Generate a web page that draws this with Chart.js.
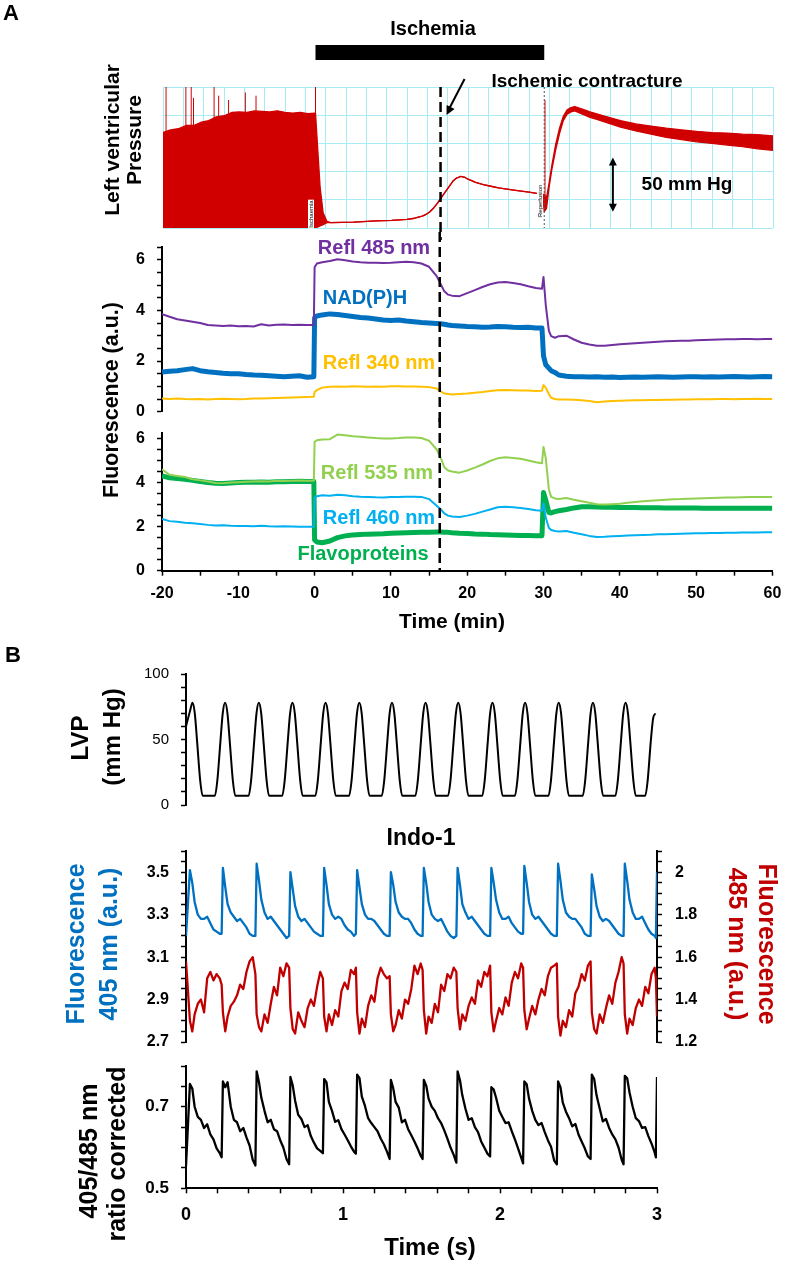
<!DOCTYPE html>
<html>
<head>
<meta charset="utf-8">
<script src="https://cdn.jsdelivr.net/npm/chart.js"></script>
<style>
  body { margin: 0; width: 787px; height: 1274px; position: relative; overflow: hidden; background: #fff;
         font-family: "Liberation Sans", Arial, sans-serif; }
  canvas { position: absolute; left: 0; }
  .lbl { position: absolute; white-space: nowrap; font-weight: bold; line-height: 1; }
</style>
</head>
<body>
<canvas id="lvpA" width="787" height="240" style="top:0px"></canvas>
<canvas id="fluorTop" width="787" height="193" style="top:232px"></canvas>
<canvas id="fluorBottom" width="787" height="222" style="top:418px"></canvas>
<canvas id="lvpB" width="787" height="170" style="top:650px"></canvas>
<canvas id="indo" width="787" height="215" style="top:840px"></canvas>
<canvas id="ratio" width="787" height="219" style="top:1055px"></canvas>
<script>
// ---------- Panel A data (time in min) ----------
const ischemiaStart = 0;
const ischemiaEnd = 30;
const contractureMinute = 16.4;

const minutesA = [
  -20, -19, -18, -17, -16, -15, -14, -13, -12, -11,
  -10, -9, -8, -7, -6, -5, -4, -3, -2, -1,
  -0.1, 0, 0.3, 1, 2, 3, 4, 5, 6, 7,
  8, 9, 10, 11, 12, 13, 14, 15, 16, 16.5,
  17, 17.5, 18, 19, 20, 21, 22, 23, 24, 25,
  26, 27, 28, 29, 29.8, 30, 30.3, 30.7, 31, 31.5,
  32, 33, 34, 35, 36, 37, 38, 39, 40, 41,
  42, 43, 44, 45, 46, 47, 48, 49, 50, 51,
  52, 53, 54, 55, 56, 57, 58, 59, 60
];
const refl485 = [
  3.85, 3.75, 3.65, 3.60, 3.55, 3.50, 3.42, 3.40, 3.38, 3.40,
  3.37, 3.38, 3.36, 3.45, 3.40, 3.43, 3.44, 3.42, 3.43, 3.42,
  3.42, 5.70, 5.85, 5.90, 5.95, 6.02, 5.98, 5.93, 5.90, 5.88,
  5.88, 5.87, 5.88, 5.90, 5.92, 5.90, 5.85, 5.72, 5.35, 5.05,
  4.75, 4.62, 4.58, 4.56, 4.68, 4.80, 4.92, 5.03, 5.10, 5.12,
  5.08, 5.03, 4.95, 4.88, 4.85, 5.32, 4.20, 3.20, 2.98, 2.92,
  2.98, 3.00, 2.85, 2.72, 2.65, 2.60, 2.60, 2.63, 2.66, 2.68,
  2.70, 2.72, 2.74, 2.76, 2.78, 2.79, 2.80, 2.80, 2.82, 2.83,
  2.84, 2.85, 2.86, 2.86, 2.87, 2.87, 2.86, 2.87, 2.87
];
const nadph = [
  1.57, 1.60, 1.62, 1.66, 1.70, 1.62, 1.58, 1.55, 1.52, 1.50,
  1.50, 1.47, 1.45, 1.44, 1.42, 1.40, 1.38, 1.40, 1.42, 1.36,
  1.38, 3.70, 3.78, 3.82, 3.86, 3.84, 3.80, 3.76, 3.72, 3.70,
  3.66, 3.62, 3.60, 3.62, 3.58, 3.55, 3.52, 3.50, 3.48, 3.47,
  3.45, 3.42, 3.40, 3.38, 3.36, 3.35, 3.33, 3.34, 3.36, 3.35,
  3.33, 3.32, 3.33, 3.30, 3.30, 2.20, 1.85, 1.72, 1.62, 1.55,
  1.45, 1.40, 1.38, 1.38, 1.37, 1.38, 1.36, 1.37, 1.35, 1.36,
  1.37, 1.36, 1.37, 1.38, 1.37, 1.36, 1.37, 1.38, 1.38, 1.37,
  1.38, 1.37, 1.38, 1.39, 1.38, 1.37, 1.38, 1.39, 1.38
];
const refl340 = [
  0.52, 0.50, 0.52, 0.50, 0.49, 0.50, 0.48, 0.50, 0.51, 0.50,
  0.49, 0.50, 0.52, 0.52, 0.53, 0.54, 0.55, 0.56, 0.57, 0.58,
  0.59, 0.78, 0.85, 0.95, 0.98, 0.99, 0.98, 1.00, 0.99, 0.98,
  0.99, 0.98, 1.00, 1.00, 0.99, 0.99, 0.98, 0.97, 0.92, 0.80,
  0.72, 0.70, 0.68, 0.70, 0.72, 0.75, 0.78, 0.82, 0.85, 0.86,
  0.85, 0.84, 0.84, 0.82, 0.83, 1.05, 0.95, 0.70, 0.55, 0.50,
  0.48, 0.48, 0.47, 0.45, 0.42, 0.37, 0.40, 0.42, 0.43, 0.44,
  0.45, 0.45, 0.46, 0.46, 0.47, 0.47, 0.48, 0.48, 0.49, 0.49,
  0.49, 0.50, 0.50, 0.49, 0.50, 0.50, 0.51, 0.50, 0.50
];
const refl535 = [
  4.60, 4.35, 4.30, 4.25, 4.15, 4.10, 4.05, 3.98, 3.97, 4.00,
  4.02, 4.04, 4.05, 4.06, 4.05, 4.08, 4.07, 4.08, 4.09, 4.08,
  4.08, 5.85, 5.92, 5.95, 5.97, 6.18, 6.15, 6.10, 6.08, 6.05,
  6.02, 6.00, 6.00, 6.02, 6.05, 6.05, 6.02, 5.90, 5.50, 5.15,
  4.70, 4.55, 4.50, 4.45, 4.55, 4.68, 4.82, 4.98, 5.10, 5.15,
  5.12, 5.08, 5.00, 4.92, 4.88, 5.62, 5.10, 3.70, 3.35, 3.28,
  3.25, 3.30, 3.22, 3.15, 3.08, 3.02, 3.00, 3.02, 3.04, 3.08,
  3.12, 3.15, 3.18, 3.20, 3.22, 3.24, 3.25, 3.27, 3.28, 3.29,
  3.30, 3.31, 3.32, 3.32, 3.33, 3.34, 3.34, 3.35, 3.35
];
const flavoproteins = [
  4.30, 4.22, 4.18, 4.15, 4.10, 4.05, 4.00, 3.97, 3.96, 3.98,
  4.00, 4.01, 4.02, 4.03, 4.02, 4.04, 4.04, 4.05, 4.06, 4.05,
  4.05, 1.40, 1.30, 1.27, 1.35, 1.50, 1.58, 1.62, 1.64, 1.66,
  1.67, 1.68, 1.70, 1.71, 1.72, 1.73, 1.74, 1.75, 1.76, 1.76,
  1.75, 1.74, 1.72, 1.70, 1.69, 1.67, 1.66, 1.64, 1.63, 1.62,
  1.61, 1.60, 1.60, 1.59, 1.59, 3.55, 3.20, 2.65, 2.62, 2.68,
  2.72, 2.78, 2.85, 2.90, 2.90, 2.89, 2.88, 2.88, 2.87, 2.87,
  2.87, 2.86, 2.86, 2.86, 2.85, 2.85, 2.85, 2.85, 2.85, 2.84,
  2.84, 2.84, 2.84, 2.83, 2.83, 2.83, 2.83, 2.83, 2.83
];
const refl460 = [
  2.35, 2.25, 2.22, 2.18, 2.15, 2.12, 2.08, 2.05, 2.06, 2.04,
  2.03, 2.03, 2.02, 2.04, 2.02, 2.01, 2.02, 2.01, 2.00, 2.00,
  2.00, 3.30, 3.38, 3.42, 3.40, 3.45, 3.42, 3.38, 3.36, 3.35,
  3.33, 3.32, 3.34, 3.35, 3.36, 3.36, 3.35, 3.25, 2.95, 2.80,
  2.60, 2.50, 2.46, 2.44, 2.50, 2.58, 2.68, 2.78, 2.88, 2.90,
  2.88, 2.85, 2.80, 2.74, 2.72, 3.05, 2.40, 1.95, 1.85, 1.80,
  1.78, 1.80, 1.72, 1.65, 1.58, 1.53, 1.54, 1.56, 1.58, 1.60,
  1.61, 1.62, 1.63, 1.65, 1.66, 1.67, 1.68, 1.69, 1.70, 1.70,
  1.71, 1.71, 1.72, 1.72, 1.73, 1.73, 1.73, 1.74, 1.74
];

// Left ventricular pressure record (envelope of the fast trace, mm Hg)
const lvpMinutes = [
  -20, -19, -18, -17, -16, -15, -14, -13, -12, -11,
  -10, -9, -8, -7, -6, -5, -4, -3, -2, -1,
  -0.1, 0, 0.3, 0.6, 1, 1.5, 2, 5, 8, 10,
  12, 13, 14, 14.5, 15, 15.5, 16, 16.5, 17, 17.5,
  18, 18.5, 19, 19.5, 20, 21, 22, 23, 24, 26,
  28, 29, 29.8, 30, 30.3, 30.6, 31, 31.5, 32, 32.5,
  33, 33.5, 34, 35, 36, 37, 38, 40, 42, 44,
  46, 48, 50, 52, 54, 56, 58, 60
];
const lvpUpper = [
  88, 90.5, 91.5, 94.5, 94.5, 97.5, 99, 102.5, 103.5, 106.5,
  107, 106.5, 108, 107.5, 107, 108, 106.5, 106, 106.5, 105.5,
  106, 106, 72, 38, 14, 6, 5, 5.5, 6.5, 7,
  8, 9, 11, 12.5, 15, 18.5, 23, 28, 33, 38,
  43, 46, 47.5, 47, 45, 42, 40, 38.5, 37, 35,
  33, 32, 31, 31, 28, 40, 58, 77, 92, 103,
  109, 111, 112, 109.5, 107, 105, 103, 99, 96, 94,
  92, 90.5, 89, 88, 87.5, 86.5, 86, 85
];
const lvpLower = [
  0, 0, 0, 0, 0, 0, 0, 0, 0, 0,
  0, 0, 0, 0, 0, 0, 0, 0, 0, 0,
  0, 0, 1, 2, 3, 5, 5, 5.5, 6.5, 7,
  8, 9, 11, 12.5, 15, 18.5, 23, 28, 33, 38,
  43, 46, 47.5, 47, 45, 42, 40, 38.5, 37, 35,
  33, 32, 31, 15, 18, 36, 54, 72, 87, 99,
  105, 107, 108, 105, 102, 100, 97.5, 93, 89.5, 86.5,
  83.5, 81.5, 79.5, 78, 76.5, 75, 73, 71.5
];
const spikeMinutes = [-19.6, -17.0, -16.3, -16.0, -13.3, -12.7, -11.4, -9.2, -7.8, 0, 30.1];
const spikeBase = [0, 0, 0, 0, 0, 0, 0, 0, 0, 0, 20];
const spikeTop = [130, 130, 130, 120, 130, 122, 118, 125, 122, 130, 118];

// ---------- Panel B data (time in s) ----------
const lvpBSeconds = [
  0, 0.026, 0.041, 0.056, 0.071, 0.091, 0.106,
  0.184, 0.199, 0.219, 0.234, 0.249, 0.264, 0.279, 0.299, 0.314,
  0.399, 0.414, 0.434, 0.449, 0.464, 0.479, 0.494, 0.514, 0.529,
  0.613, 0.628, 0.648, 0.663, 0.678, 0.693, 0.708, 0.728, 0.743,
  0.824, 0.839, 0.859, 0.874, 0.889, 0.904, 0.919, 0.939, 0.954,
  1.039, 1.054, 1.074, 1.089, 1.104, 1.119, 1.134, 1.154, 1.169,
  1.247, 1.262, 1.282, 1.297, 1.312, 1.327, 1.342, 1.362, 1.377,
  1.461, 1.476, 1.496, 1.511, 1.526, 1.541, 1.556, 1.576, 1.591,
  1.669, 1.684, 1.704, 1.719, 1.734, 1.749, 1.764, 1.784, 1.799,
  1.887, 1.902, 1.922, 1.937, 1.952, 1.967, 1.982, 2.002, 2.017,
  2.095, 2.110, 2.130, 2.145, 2.160, 2.175, 2.190, 2.210, 2.225,
  2.309, 2.324, 2.344, 2.359, 2.374, 2.389, 2.404, 2.424, 2.439,
  2.527, 2.542, 2.562, 2.577, 2.592, 2.607, 2.622, 2.642, 2.657,
  2.735, 2.750, 2.770, 2.785, 2.800, 2.815, 2.830, 2.850, 2.865,
  2.925, 2.940, 2.960, 2.975, 2.990
];
const lvpBPressure = [
  60, 72, 78, 70, 48, 18, 7,
  7, 18, 48, 70, 78, 70, 48, 18, 7,
  7, 18, 48, 70, 78, 70, 48, 18, 7,
  7, 18, 48, 70, 78, 70, 48, 18, 7,
  7, 18, 48, 70, 78, 70, 48, 18, 7,
  7, 18, 48, 70, 78, 70, 48, 18, 7,
  7, 18, 48, 70, 78, 70, 48, 18, 7,
  7, 18, 48, 70, 78, 70, 48, 18, 7,
  7, 18, 48, 70, 78, 70, 48, 18, 7,
  7, 18, 48, 70, 78, 70, 48, 18, 7,
  7, 18, 48, 70, 78, 70, 48, 18, 7,
  7, 18, 48, 70, 78, 70, 48, 18, 7,
  7, 18, 48, 70, 78, 70, 48, 18, 7,
  7, 18, 48, 70, 78, 70, 48, 18, 7,
  7, 18, 48, 66, 70
];

const indoSeconds = [
  0, 0.025, 0.04, 0.055, 0.075, 0.095, 0.115, 0.135, 0.155, 0.175, 0.195, 0.215,
  0.227, 0.235, 0.25, 0.265, 0.285, 0.305, 0.325, 0.345, 0.365, 0.385, 0.405, 0.425,
  0.442, 0.45, 0.465, 0.48, 0.5, 0.52, 0.54, 0.56, 0.58, 0.6, 0.62, 0.64,
  0.657, 0.665, 0.68, 0.695, 0.715, 0.735, 0.755, 0.775, 0.795, 0.815, 0.835, 0.855,
  0.872, 0.88, 0.895, 0.91, 0.93, 0.95, 0.97, 0.99, 1.01, 1.03, 1.05, 1.07,
  1.082, 1.09, 1.105, 1.12, 1.14, 1.16, 1.18, 1.2, 1.22, 1.24, 1.26, 1.28,
  1.297, 1.305, 1.32, 1.335, 1.355, 1.375, 1.395, 1.415, 1.435, 1.455, 1.475, 1.495,
  1.507, 1.515, 1.53, 1.545, 1.565, 1.585, 1.605, 1.625, 1.645, 1.665, 1.685, 1.705,
  1.722, 1.73, 1.745, 1.76, 1.78, 1.8, 1.82, 1.84, 1.86, 1.88, 1.9, 1.92,
  1.937, 1.945, 1.96, 1.975, 1.995, 2.015, 2.035, 2.055, 2.075, 2.095, 2.115, 2.135,
  2.147, 2.155, 2.17, 2.185, 2.205, 2.225, 2.245, 2.265, 2.285, 2.305, 2.325, 2.345,
  2.362, 2.37, 2.385, 2.4, 2.42, 2.44, 2.46, 2.48, 2.5, 2.52, 2.54, 2.56,
  2.577, 2.585, 2.6, 2.615, 2.635, 2.655, 2.675, 2.695, 2.715, 2.735, 2.755, 2.775,
  2.787, 2.795, 2.81, 2.825, 2.845, 2.865, 2.885, 2.905, 2.925, 2.945, 2.965, 2.985,
  2.993, 3.0
];
const fluor405 = [
  3.20, 3.51, 3.45, 3.36, 3.30, 3.28, 3.28, 3.29, 3.26, 3.23, 3.22, 3.21,
  3.21, 3.52, 3.43, 3.35, 3.31, 3.29, 3.27, 3.28, 3.26, 3.24, 3.21, 3.20,
  3.20, 3.54, 3.46, 3.37, 3.31, 3.28, 3.29, 3.27, 3.25, 3.23, 3.21, 3.19,
  3.20, 3.50, 3.42, 3.34, 3.29, 3.27, 3.28, 3.26, 3.24, 3.22, 3.21, 3.20,
  3.20, 3.52, 3.44, 3.35, 3.30, 3.28, 3.29, 3.28, 3.25, 3.23, 3.22, 3.20,
  3.21, 3.51, 3.43, 3.35, 3.30, 3.28, 3.28, 3.27, 3.25, 3.23, 3.21, 3.20,
  3.20, 3.50, 3.44, 3.36, 3.31, 3.29, 3.28, 3.28, 3.26, 3.23, 3.21, 3.20,
  3.20, 3.52, 3.45, 3.36, 3.30, 3.28, 3.27, 3.28, 3.25, 3.22, 3.20, 3.19,
  3.20, 3.52, 3.44, 3.35, 3.31, 3.28, 3.29, 3.27, 3.25, 3.23, 3.21, 3.20,
  3.20, 3.52, 3.45, 3.37, 3.31, 3.28, 3.28, 3.29, 3.26, 3.24, 3.22, 3.21,
  3.21, 3.53, 3.45, 3.36, 3.30, 3.28, 3.29, 3.27, 3.25, 3.23, 3.21, 3.20,
  3.20, 3.54, 3.46, 3.37, 3.31, 3.29, 3.28, 3.28, 3.26, 3.24, 3.21, 3.20,
  3.20, 3.49, 3.42, 3.34, 3.29, 3.27, 3.28, 3.27, 3.25, 3.23, 3.21, 3.20,
  3.20, 3.54, 3.46, 3.37, 3.31, 3.28, 3.28, 3.29, 3.26, 3.23, 3.21, 3.20,
  3.19, 3.50
];
const fluor485 = [
  1.58, 1.30, 1.25, 1.33, 1.38, 1.40, 1.34, 1.50, 1.53, 1.49, 1.52, 1.50,
  1.47, 1.34, 1.25, 1.32, 1.37, 1.39, 1.42, 1.47, 1.45, 1.53, 1.58, 1.60,
  1.52, 1.33, 1.27, 1.25, 1.33, 1.29, 1.38, 1.46, 1.42, 1.55, 1.51, 1.57,
  1.55, 1.36, 1.26, 1.24, 1.34, 1.30, 1.27, 1.36, 1.40, 1.37, 1.46, 1.53,
  1.50, 1.32, 1.25, 1.33, 1.28, 1.35, 1.32, 1.44, 1.48, 1.45, 1.54, 1.52,
  1.55, 1.34, 1.24, 1.31, 1.27, 1.37, 1.42, 1.39, 1.50, 1.55, 1.52, 1.50,
  1.51, 1.33, 1.25, 1.28, 1.35, 1.31, 1.40, 1.38, 1.45, 1.56, 1.52, 1.57,
  1.54, 1.35, 1.24, 1.32, 1.29, 1.38, 1.34, 1.47, 1.44, 1.52, 1.50, 1.55,
  1.53, 1.36, 1.26, 1.33, 1.30, 1.37, 1.41, 1.38, 1.49, 1.46, 1.53, 1.51,
  1.56, 1.34, 1.25, 1.30, 1.36, 1.33, 1.41, 1.37, 1.48, 1.53, 1.50, 1.57,
  1.55, 1.35, 1.26, 1.31, 1.37, 1.33, 1.40, 1.45, 1.42, 1.51, 1.55, 1.56,
  1.57, 1.32, 1.23, 1.30, 1.27, 1.35, 1.32, 1.43, 1.46, 1.52, 1.49, 1.56,
  1.58, 1.34, 1.26, 1.24, 1.33, 1.29, 1.36, 1.42, 1.38, 1.48, 1.53, 1.60,
  1.57, 1.33, 1.24, 1.31, 1.28, 1.36, 1.40, 1.37, 1.46, 1.43, 1.52, 1.55,
  1.50, 1.32
];
const ratio405485 = [
  0.555, 0.756, 0.745, 0.700, 0.675, 0.668, 0.648, 0.657, 0.632, 0.620, 0.598, 0.586,
  0.576, 0.762, 0.748, 0.760, 0.700, 0.668, 0.662, 0.640, 0.648, 0.625, 0.605, 0.570,
  0.556, 0.787, 0.760, 0.722, 0.690, 0.662, 0.668, 0.645, 0.640, 0.618, 0.600, 0.572,
  0.559, 0.773, 0.752, 0.715, 0.680, 0.670, 0.650, 0.655, 0.628, 0.612, 0.598, 0.592,
  0.586, 0.768, 0.760, 0.712, 0.690, 0.663, 0.667, 0.645, 0.632, 0.618, 0.603, 0.590,
  0.585, 0.779, 0.770, 0.725, 0.702, 0.672, 0.660, 0.650, 0.640, 0.622, 0.608, 0.590,
  0.572, 0.766, 0.745, 0.712, 0.698, 0.662, 0.668, 0.645, 0.630, 0.615, 0.598, 0.580,
  0.572, 0.766, 0.752, 0.720, 0.700, 0.690, 0.672, 0.660, 0.642, 0.622, 0.600, 0.582,
  0.563, 0.787, 0.765, 0.728, 0.695, 0.668, 0.672, 0.650, 0.638, 0.615, 0.600, 0.585,
  0.578, 0.748, 0.742, 0.722, 0.690, 0.675, 0.660, 0.662, 0.640, 0.620, 0.598, 0.575,
  0.561, 0.762, 0.755, 0.720, 0.690, 0.668, 0.655, 0.660, 0.638, 0.618, 0.602, 0.568,
  0.559, 0.762, 0.748, 0.710, 0.688, 0.672, 0.652, 0.658, 0.632, 0.615, 0.598, 0.578,
  0.572, 0.779, 0.768, 0.728, 0.696, 0.664, 0.670, 0.648, 0.632, 0.620, 0.600, 0.570,
  0.559, 0.776, 0.770, 0.735, 0.700, 0.672, 0.665, 0.648, 0.650, 0.628, 0.610, 0.588,
  0.576, 0.773
];

// ---------- helpers ----------
const RED = '#D00000';
const CYAN = '#A6ECF4';
Chart.defaults.font.family = '"Liberation Sans", Arial, sans-serif';
Chart.defaults.color = '#000';

const pts = (xs, ys) => xs.map((x, i) => ({ x: x, y: ys[i] }));
const onStep = (v, base, step) => {
  const k = (v - base) / step;
  return Math.abs(k - Math.round(k)) < 1e-6;
};

const common = {
  responsive: false,
  animation: false,
  events: [],
  plugins: { legend: { display: false }, tooltip: { enabled: false } },
  elements: { point: { radius: 0 }, line: { tension: 0, borderJoinStyle: 'round' } }
};

// y axes: fixed width and no extra label padding, so the plot area sits where the layout says
function valueAxis(o) {
  return {
    type: 'linear', position: o.position || 'left', min: o.min, max: o.max,
    ticks: {
      stepSize: o.step, autoSkip: false, includeBounds: false, color: '#000',
      padding: o.padding || 12,
      font: { size: o.size, weight: o.weight || 'bold' },
      callback: v => o.label(v)
    },
    grid: {
      drawOnChartArea: false, tickLength: 5, tickWidth: 1.5,
      tickColor: ctx => (o.markEvery && !onStep(ctx.tick.value, 0, o.markEvery)) ? 'rgba(0,0,0,0)' : '#000'
    },
    border: { color: '#000', width: 2 },
    afterFit: s => { s.width = o.width; s.paddingTop = 0; s.paddingBottom = 0; }
  };
}
function timeAxis(o) {
  return {
    type: 'linear', min: o.min, max: o.max,
    ticks: {
      stepSize: o.step, autoSkip: false, maxRotation: 0, padding: o.padding, color: '#000',
      font: { size: o.size, weight: 'bold' },
      callback: v => (onStep(v, 0, o.labelEvery) ? Math.round(v) : '')
    },
    grid: { drawOnChartArea: false, tickLength: 5, tickWidth: 1.5, tickColor: '#000' },
    border: { color: '#000', width: 2 },
    afterFit: s => { s.height = o.height; s.paddingLeft = 0; s.paddingRight = 0; }
  };
}
const hiddenX = (min, max) => ({ type: 'linear', min: min, max: max, display: false });

function contractureLine(fromArea, toArea) {
  return {
    id: 'contracture',
    afterDatasetsDraw(chart) {
      const x = chart.scales.x.getPixelForValue(contractureMinute);
      const c = chart.ctx;
      c.save();
      c.strokeStyle = '#000';
      c.lineWidth = 2.5;
      c.setLineDash([10, 5]);
      c.beginPath();
      c.moveTo(x, fromArea ? chart.chartArea.top : 0);
      c.lineTo(x, toArea ? chart.chartArea.bottom : chart.height);
      c.stroke();
      c.restore();
    }
  };
}

function arrowHead(c, x, y, angle, size) {
  c.save();
  c.translate(x, y);
  c.rotate(angle);
  c.beginPath();
  c.moveTo(0, 0);
  c.lineTo(-size, -size * 0.5);
  c.lineTo(-size, size * 0.5);
  c.closePath();
  c.fill();
  c.restore();
}

const lvpAnnotations = {
  id: 'lvpAnnotations',
  afterDatasetsDraw(chart) {
    const c = chart.ctx;
    const xs = chart.scales.x, ys = chart.scales.y;
    const a = chart.chartArea;
    c.save();
    // ischemia bar
    const x0 = xs.getPixelForValue(ischemiaStart), x1 = xs.getPixelForValue(ischemiaEnd);
    c.fillStyle = '#000';
    c.fillRect(x0, 45, x1 - x0, 15);
    // reperfusion marker
    c.strokeStyle = '#555';
    c.lineWidth = 1;
    c.setLineDash([2, 2]);
    c.beginPath();
    c.moveTo(x1, a.top);
    c.lineTo(x1, a.bottom);
    c.stroke();
    c.setLineDash([]);
    // arrow to the contracture
    const xc = xs.getPixelForValue(contractureMinute);
    c.strokeStyle = '#000';
    c.lineWidth = 2;
    c.beginPath();
    c.moveTo(xc + 24, 79);
    c.lineTo(xc + 9, 108);
    c.stroke();
    arrowHead(c, xc + 6, 115, Math.atan2(36, -18), 9);
    // 50 mm Hg scale arrow
    const xb = xs.getPixelForValue(39);
    const yTop = ys.getPixelForValue(65), yBot = ys.getPixelForValue(15);
    c.beginPath();
    c.moveTo(xb, yTop + 6);
    c.lineTo(xb, yBot - 6);
    c.stroke();
    arrowHead(c, xb, yTop, -Math.PI / 2, 8);
    arrowHead(c, xb, yBot, Math.PI / 2, 8);
    c.restore();
  }
};

// ---------- Panel A: LV pressure record ----------
const spikeData = [];
spikeMinutes.forEach((t, i) => {
  spikeData.push({ x: t, y: spikeBase[i] }, { x: t, y: spikeTop[i] }, { x: t, y: null });
});

new Chart(document.getElementById('lvpA'), {
  type: 'line',
  data: {
    datasets: [
      { data: pts(lvpMinutes, lvpUpper), borderColor: RED, borderWidth: 1.3, fill: false },
      { data: pts(lvpMinutes, lvpLower), borderColor: RED, borderWidth: 1.3, backgroundColor: RED, fill: '-1' },
      { data: spikeData, borderColor: RED, borderWidth: 1, spanGaps: false, fill: false }
    ]
  },
  options: {
    ...common,
    layout: { padding: { left: 163, right: 14, top: 87, bottom: 12 } },
    scales: {
      x: {
        type: 'linear', min: -20, max: 60,
        ticks: { display: false, stepSize: 80 / 30, autoSkip: false },
        grid: { color: CYAN, lineWidth: 1, drawTicks: false },
        border: { display: false },
        afterFit: s => { s.height = 0; s.paddingLeft = 0; s.paddingRight = 0; }
      },
      y: {
        min: 0, max: 130,
        ticks: { display: false, stepSize: 26 },
        grid: { color: CYAN, lineWidth: 1, drawTicks: false },
        border: { display: false },
        afterFit: s => { s.width = 0; s.paddingTop = 0; s.paddingBottom = 0; }
      }
    }
  },
  plugins: [lvpAnnotations, contractureLine(true, false)]
});

// ---------- Panel A: NAD(P)H group ----------
const evenLabel = v => (onStep(v, 0, 2) ? Math.round(v) : '');

new Chart(document.getElementById('fluorTop'), {
  type: 'line',
  data: {
    datasets: [
      { data: pts(minutesA, refl340), borderColor: '#FFC000', borderWidth: 2 },
      { data: pts(minutesA, refl485), borderColor: '#7030A0', borderWidth: 2 },
      { data: pts(minutesA, nadph), borderColor: '#0070C0', borderWidth: 5 }
    ]
  },
  options: {
    ...common,
    layout: { padding: { left: 0, right: 14.6, top: 15, bottom: 13.3 } },
    scales: {
      x: hiddenX(-20, 60),
      y: valueAxis({ min: 0, max: 6.5, step: 0.5, size: 16, width: 162, label: evenLabel })
    }
  },
  plugins: [contractureLine(false, false)]
});

// ---------- Panel A: flavoprotein group ----------
new Chart(document.getElementById('fluorBottom'), {
  type: 'line',
  data: {
    datasets: [
      { data: pts(minutesA, refl535), borderColor: '#92D050', borderWidth: 2 },
      { data: pts(minutesA, refl460), borderColor: '#00B0F0', borderWidth: 2 },
      { data: pts(minutesA, flavoproteins), borderColor: '#00B050', borderWidth: 5 }
    ]
  },
  options: {
    ...common,
    layout: { padding: { left: 0, right: 14.6, top: 15, bottom: 0 } },
    scales: {
      x: timeAxis({ min: -20, max: 60, step: 5, labelEvery: 10, size: 16, padding: 8, height: 69.3 }),
      y: valueAxis({ min: 0, max: 6.25, step: 0.25, markEvery: 0.5, size: 16, width: 162, label: evenLabel })
    }
  },
  plugins: [contractureLine(false, true)]
});

// ---------- Panel B: LVP ----------
new Chart(document.getElementById('lvpB'), {
  type: 'line',
  data: {
    datasets: [
      { data: pts(lvpBSeconds, lvpBPressure), borderColor: '#000', borderWidth: 2, cubicInterpolationMode: 'monotone' }
    ]
  },
  options: {
    ...common,
    layout: { padding: { left: 0, right: 130, top: 24, bottom: 15 } },
    scales: {
      x: hiddenX(0, 3),
      y: valueAxis({ min: 0, max: 100, step: 10, size: 15, weight: 'normal', width: 186,
                     label: v => (onStep(v, 0, 50) ? Math.round(v) : '') })
    }
  }
});

// ---------- Panel B: Indo-1 ----------
new Chart(document.getElementById('indo'), {
  type: 'line',
  data: {
    datasets: [
      { data: pts(indoSeconds, fluor405), borderColor: '#0070C0', borderWidth: 2.3, yAxisID: 'y' },
      { data: pts(indoSeconds, fluor485), borderColor: '#C00000', borderWidth: 2.3, yAxisID: 'y2' }
    ]
  },
  options: {
    ...common,
    layout: { padding: { left: 0, right: 0, top: 11, bottom: 13 } },
    scales: {
      x: hiddenX(0, 3),
      y: valueAxis({ min: 2.7, max: 3.6, step: 0.05, size: 16, width: 186,
                     label: v => (onStep(v, 2.7, 0.2) ? v.toFixed(1) : '') }),
      y2: valueAxis({ position: 'right', min: 1.2, max: 2.1, step: 0.05, size: 16, width: 130, padding: 13,
                      label: v => (onStep(v, 1.2, 0.2) ? (onStep(v, 0, 1) ? String(Math.round(v)) : v.toFixed(1)) : '') })
    }
  }
});

// ---------- Panel B: ratio ----------
new Chart(document.getElementById('ratio'), {
  type: 'line',
  data: {
    datasets: [
      { data: pts(indoSeconds, ratio405485), borderColor: '#000', borderWidth: 2.3 }
    ]
  },
  options: {
    ...common,
    layout: { padding: { left: 0, right: 130, top: 11, bottom: 0 } },
    scales: {
      x: timeAxis({ min: 0, max: 3, step: 0.2, labelEvery: 1, size: 18, padding: 11, height: 85.7 }),
      y: valueAxis({ min: 0.5, max: 0.8, step: 0.05, size: 17, width: 186,
                     label: v => ((onStep(v, 0.5, 1) || onStep(v, 0.7, 1)) ? v.toFixed(1) : '') })
    }
  }
});

// ---------- text ----------
function addText(text, x, y, size, color, angle, tiny) {
  const d = document.createElement('div');
  d.className = 'lbl';
  d.textContent = text;
  d.style.left = x + 'px';
  d.style.top = y + 'px';
  d.style.fontSize = size + 'px';
  d.style.color = color || '#000';
  d.style.transform = 'translate(-50%,-50%) rotate(' + (angle || 0) + 'deg)';
  if (tiny) {
    d.style.fontWeight = 'normal';
    d.style.background = '#fff';
    d.style.padding = '0 1px';
  }
  document.body.appendChild(d);
}

addText('A', 11, 13, 22);
addText('Ischemia', 433, 28, 20);
addText('Left ventricular', 111, 140, 21, '#000', -90);
addText('Pressure', 133, 140, 21, '#000', -90);
addText('Ischemic contracture', 587, 80, 19);
addText('50 mm Hg', 687, 183, 19);
addText('Ischaemia', 311, 214, 6, '#000', -90, true);
addText('Reperfusion', 540, 201, 6, '#000', -90, true);
addText('Refl 485 nm', 374, 247, 20, '#7030A0');
addText('NAD(P)H', 365, 297, 20, '#0070C0');
addText('Refl 340 nm', 379, 362, 20, '#FFC000');
addText('Fluorescence (a.u.)', 112, 400, 21.5, '#000', -90);
addText('Refl 535 nm', 377, 472, 20, '#92D050');
addText('Refl 460 nm', 379, 517, 20, '#00B0F0');
addText('Flavoproteins', 363, 553, 20, '#00B050');
addText('Time (min)', 452, 620, 21);

addText('B', 13, 655, 22);
addText('LVP', 80, 738, 24, '#000', -90);
addText('(mm Hg)', 112, 737, 24, '#000', -90);
addText('Indo-1', 421, 837, 23);
addText('Fluorescence', 75, 944, 25, '#0070C0', -90);
addText('405 nm (a.u.)', 108, 944, 25, '#0070C0', -90);
addText('Fluorescence', 767, 944, 25, '#C00000', 90);
addText('485 nm (a.u.)', 737, 944, 25, '#C00000', 90);
addText('405/485 nm', 88, 1151, 25, '#000', -90);
addText('ratio corrected', 116, 1154, 25, '#000', -90);
addText('Time (s)', 430, 1247, 24);
</script>
</body>
</html>
